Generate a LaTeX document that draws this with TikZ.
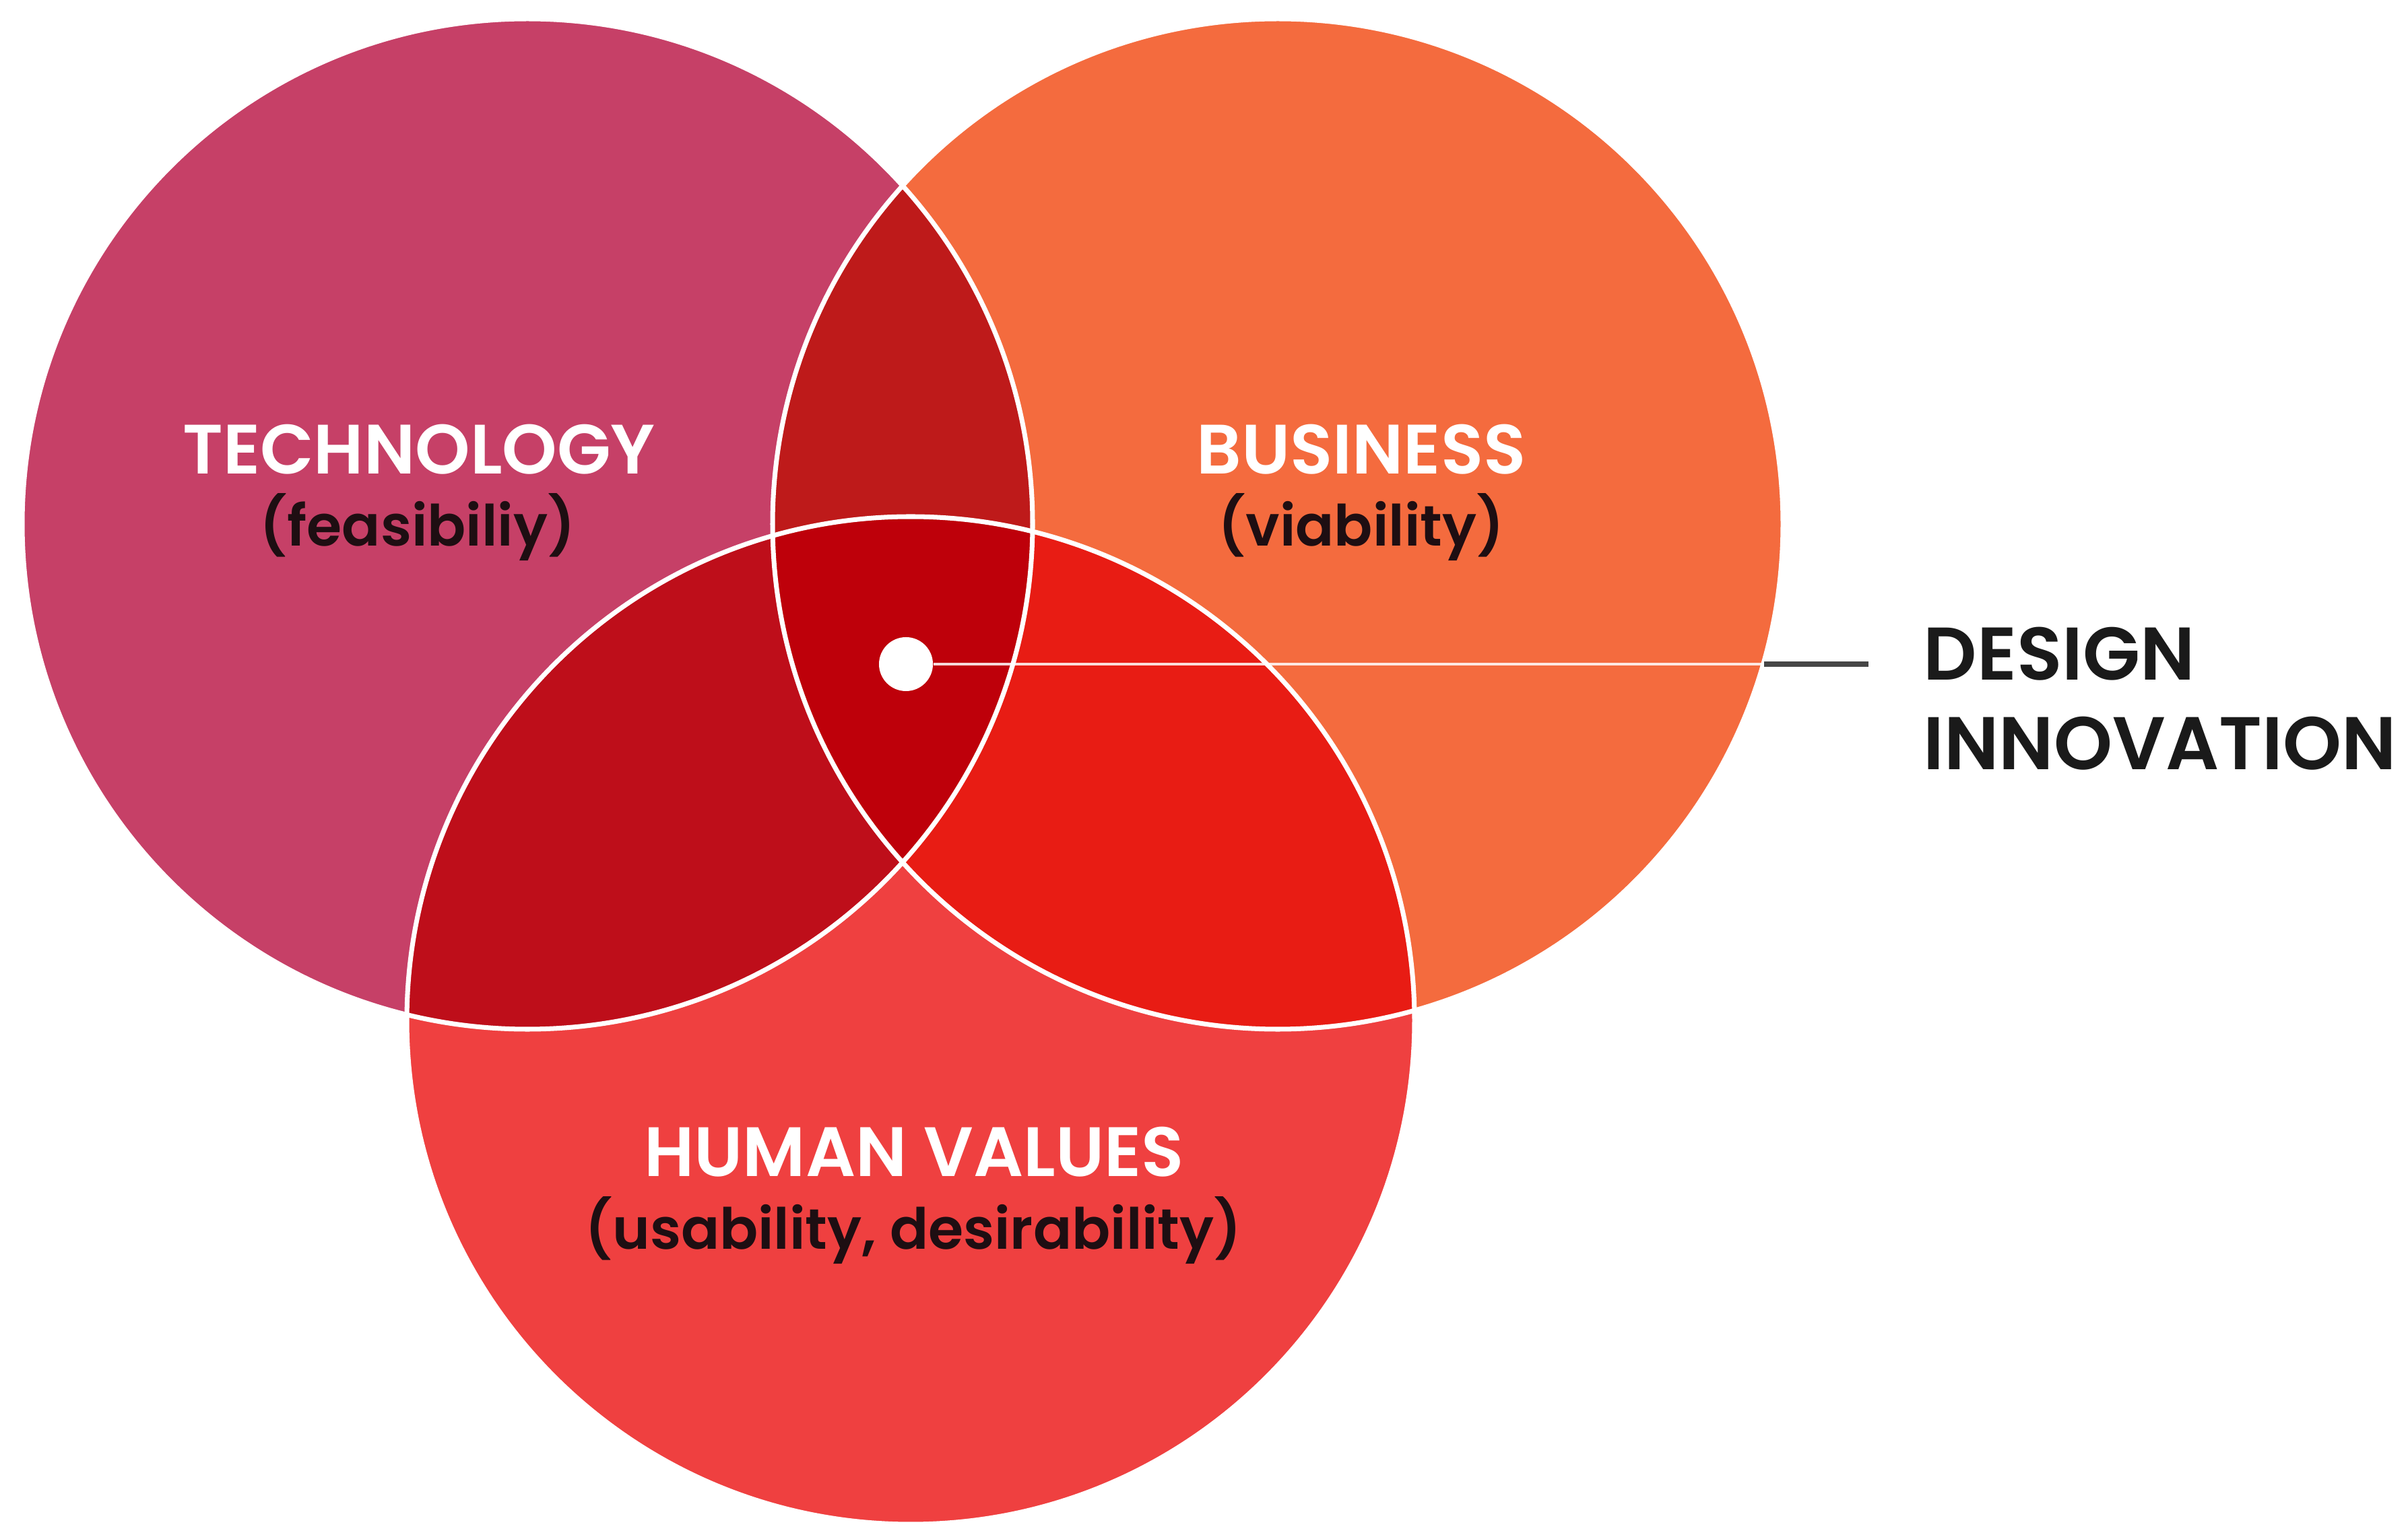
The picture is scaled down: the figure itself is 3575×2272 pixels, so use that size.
\documentclass[tikz,border=0pt]{standalone}
\usepackage{fontspec}
\setmainfont{Poppins}
\newfontfamily\vennfont{Poppins SemiBold}
\usetikzlibrary{positioning}
\definecolor{techpink}{RGB}{198,64,103}
\definecolor{busorange}{RGB}{244,107,62}
\definecolor{humred}{RGB}{239,64,64}
\definecolor{tbred}{RGB}{190,26,26}
\definecolor{thred}{RGB}{190,14,26}
\definecolor{bhred}{RGB}{232,28,20}
\definecolor{allred}{RGB}{190,0,10}
\definecolor{subtext}{RGB}{30,14,18}
\definecolor{calltext}{RGB}{26,26,26}
\definecolor{leadgray}{RGB}{70,70,70}
\begin{document}
\begin{tikzpicture}
[
x=0.01cm, y=0.01cm,
ring/.style={draw=white,line width=2pt},
title/.style={inner sep=0pt,text=white,font=\vennfont\fontsize{29.5}{35}\selectfont},
sub/.style={inner sep=0pt,text=subtext,font=\vennfont\fontsize{24}{29}\selectfont},
callout/.style={inner sep=0pt,anchor=west,text=calltext,font=\vennfont\fontsize{31.5}{38}\selectfont},
]
\useasboundingbox (0,0) rectangle (3575,2272);

%Circle centres
\coordinate (tech) at (783,1494);
\coordinate (bus) at (1897,1494);
\coordinate (hum) at (1352,757);

%Fill the circles
\fill[techpink] (tech) circle[radius=750];
\fill[busorange] (bus) circle[radius=750];
\fill[humred] (hum) circle[radius=748];

%Overlaps
\begin{scope}
\clip (tech) circle[radius=750];
\fill[tbred] (bus) circle[radius=750];
\fill[thred] (hum) circle[radius=748];
\end{scope}
\begin{scope}
\clip (bus) circle[radius=750];
\fill[bhred] (hum) circle[radius=748];
\end{scope}
\begin{scope}
\clip (tech) circle[radius=750];
\clip (bus) circle[radius=750];
\fill[allred] (hum) circle[radius=748];
\end{scope}

%Outlines
\draw[ring] (tech) circle[radius=750];
\draw[ring] (bus) circle[radius=750];
\draw[ring] (hum) circle[radius=748];

%Place the labels
\node[title] (techname) at (622,1605) {TECHNOLOGY};
\node[sub] (techsub) at (620,1489) {(feasibiliy)};
\node[title] (busname) at (2021,1605) {BUSINESS};
\node[sub] (bussub) at (2021,1489) {(viability)};
\node[title] (humname) at (1357,562) {HUMAN VALUES};
\node[sub] (humsub) at (1356,445) {(usability, desirability)};
\node[callout] (design) at (2855,1301) {DESIGN};
\node[callout] (innov) at (2855,1168) {INNOVATION};

%Draw the pointer
\node[circle,fill=white,minimum size=0.8cm,inner sep=0pt] (dot) at (1345,1286) {};
\coordinate (rim) at (2619,1286);
\coordinate (tip) at (2774,1286);
\draw[white,opacity=0.85,line width=1.3pt] (dot) -- (rim);
\draw[leadgray,line width=2pt] (rim) -- (tip);
\end{tikzpicture}
\end{document}
